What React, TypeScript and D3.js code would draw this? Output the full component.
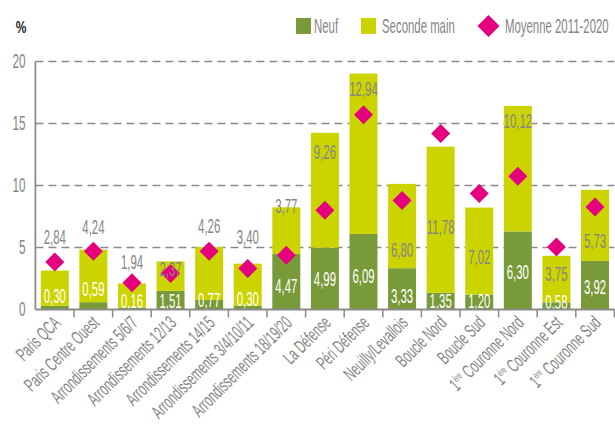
import React from "react";
import * as d3 from "d3";

const categories = [
  "Paris QCA",
  "Paris Centre Ouest",
  "Arrondissements 5/6/7",
  "Arrondissements 12/13",
  "Arrondissements 14/15",
  "Arrondissements 3/4/10/11",
  "Arrondissements 18/19/20",
  "La Défense",
  "Péri Défense",
  "Neuilly/Levallois",
  "Boucle Nord",
  "Boucle Sud",
  "1ère Couronne Nord",
  "1ère Couronne Est",
  "1ère Couronne Sud",
];
const neuf = [0.3, 0.59, 0.16, 1.51, 0.77, 0.3, 4.47, 4.99, 6.09, 3.33, 1.35, 1.2, 6.3, 0.58, 3.92];
const secondeMain = [2.84, 4.24, 1.94, 2.37, 4.26, 3.4, 3.77, 9.26, 12.94, 6.8, 11.78, 7.02, 10.12, 3.75, 5.73];
const moyenne = [3.84, 4.7, 2.15, 2.9, 4.7, 3.3, 4.38, 8.0, 15.7, 8.8, 14.2, 9.35, 10.75, 5.05, 8.27];
const yTicks = [0, 5, 10, 15, 20];

// label anchor heights (in % units) for the value labels
const secondLabelAt = [5.85, 6.66, 3.84, 3.33, 6.8, 5.85, 8.41, 12.7, 17.8, 4.84, 6.66, 4.24, 15.27, 2.9, 5.59];
const neufLabelAt = [1.15, 1.69, 0.69, 0.75, 0.8, 0.89, 1.96, 2.5, 2.77, 1.15, 0.75, 0.75, 3.03, 0.61, 1.82];

const W = 615;
const H = 425;
const left = 35.4;
const right = 614.4;
const FONT = "'Liberation Sans', Arial, sans-serif";
const GREEN = "#789a38";
const YELLOW = "#ccd400";
const PINK = "#e5007d";
const GREY = "#858585";
const fmt = (v: number) => v.toFixed(2).replace(".", ",");

function CText(props: {
  x: number;
  y: number;
  size: number;
  sx?: number;
  fill: string;
  anchor?: string;
  rotate?: number;
  weight?: string | number;
  children: React.ReactNode;
}) {
  const { x, y, size, sx = 0.6, fill, anchor = "middle", rotate = 0, weight = "normal", children } = props;
  return (
    <text
      transform={`translate(${x},${y}) rotate(${rotate}) scale(${sx},1)`}
      fontFamily={FONT}
      fontSize={size}
      fill={fill}
      textAnchor={anchor}
      fontWeight={weight}
      dominantBaseline="central"
    >
      {children}
    </text>
  );
}

export default function App() {
  const x = d3.scaleBand<number>().domain(d3.range(categories.length)).range([left, right]).paddingInner(0.275).paddingOuter(0.14);
  const band = d3.scaleBand<number>().domain(d3.range(categories.length)).range([left, right]);
  const y = d3.scaleLinear().domain([0, 20]).range([309.5, 61.5]);
  const bw = x.bandwidth();

  return (
    <svg width={W} height={H} style={{ position: "absolute", left: 0, top: 0, background: "#fff" }}>
      {/* gridlines */}
      {yTicks.filter((t) => t > 0).map((t) => (
        <line key={t} x1={left} x2={right} y1={y(t)} y2={y(t)} stroke="#8a8a8a" strokeWidth={1.5} strokeDasharray="8,5" />
      ))}
      {/* y tick labels */}
      {yTicks.map((t) => (
        <CText key={t} x={25.5} y={y(t)} size={21} fill={GREY} anchor="end" sx={0.56}>
          {t}
        </CText>
      ))}
      <CText x={21} y={27} size={17} fill="#222" sx={0.7} weight="bold">
        %
      </CText>

      {/* bars */}
      {categories.map((c, i) => {
        const x0 = x(i)!;
        return (
          <g key={c}>
            <rect x={x0} width={bw} y={y(neuf[i])} height={y(0) - y(neuf[i])} fill={GREEN} />
            <rect x={x0} width={bw} y={y(neuf[i] + secondeMain[i])} height={y(neuf[i]) - y(neuf[i] + secondeMain[i])} fill={YELLOW} />
          </g>
        );
      })}
      {/* diamonds */}
      {categories.map((c, i) => {
        const cx = x(i)! + bw / 2;
        const cy = y(moyenne[i]);
        const r = 9.5;
        return <path key={c} d={`M${cx},${cy - r}L${cx + r},${cy}L${cx},${cy + r}L${cx - r},${cy}Z`} fill={PINK} />;
      })}
      {/* value labels */}
      {categories.map((c, i) => {
        const cx = x(i)! + bw / 2;
        return (
          <g key={c}>
            <CText x={cx} y={y(secondLabelAt[i])} size={20} fill={GREY} sx={0.57}>
              {fmt(secondeMain[i])}
            </CText>
            <CText x={cx} y={y(neufLabelAt[i])} size={20} fill="#fff" sx={0.57}>
              {fmt(neuf[i])}
            </CText>
          </g>
        );
      })}

      {/* axes */}
      <line x1={left} x2={left} y1={y(20)} y2={y(0)} stroke="#8a8a8a" strokeWidth={1.8} />
      <line x1={left} x2={right} y1={y(0)} y2={y(0)} stroke="#8a8a8a" strokeWidth={1.8} />
      {d3.range(1, categories.length + 1).map((k) => {
        const tx = left + k * band.bandwidth();
        return <line key={k} x1={tx} x2={tx} y1={y(0)} y2={y(0) + 8} stroke="#8a8a8a" strokeWidth={1.5} />;
      })}

      {/* x labels */}
      {categories.map((c, i) => {
        const cx = band(i)! + band.bandwidth() / 2 + 7;
        const sup = c.startsWith("1ère");
        return (
          <text
            key={c}
            transform={`translate(${cx},${324}) rotate(-45) scale(0.6,1)`}
            fontFamily={FONT}
            fontSize={19}
            fill={GREY}
            textAnchor="end"
          >
            {sup ? (
              <>
                <tspan>1</tspan>
                <tspan fontSize={10} dy={-7}>ère</tspan>
                <tspan dy={7}>{c.slice(4)}</tspan>
              </>
            ) : (
              c
            )}
          </text>
        );
      })}

      {/* legend */}
      <rect x={296} y={18} width={15} height={16} fill={GREEN} />
      <CText x={314} y={26} size={20} fill={GREY} anchor="start" sx={0.57}>Neuf</CText>
      <rect x={361} y={18} width={15} height={16} fill={YELLOW} />
      <CText x={382} y={26} size={20} fill={GREY} anchor="start" sx={0.57}>Seconde main</CText>
      <path d="M488.5,15L499.5,26L488.5,37L477.5,26Z" fill={PINK} />
      <CText x={505} y={26} size={20} fill={GREY} anchor="start" sx={0.57}>Moyenne 2011-2020</CText>
    </svg>
  );
}
